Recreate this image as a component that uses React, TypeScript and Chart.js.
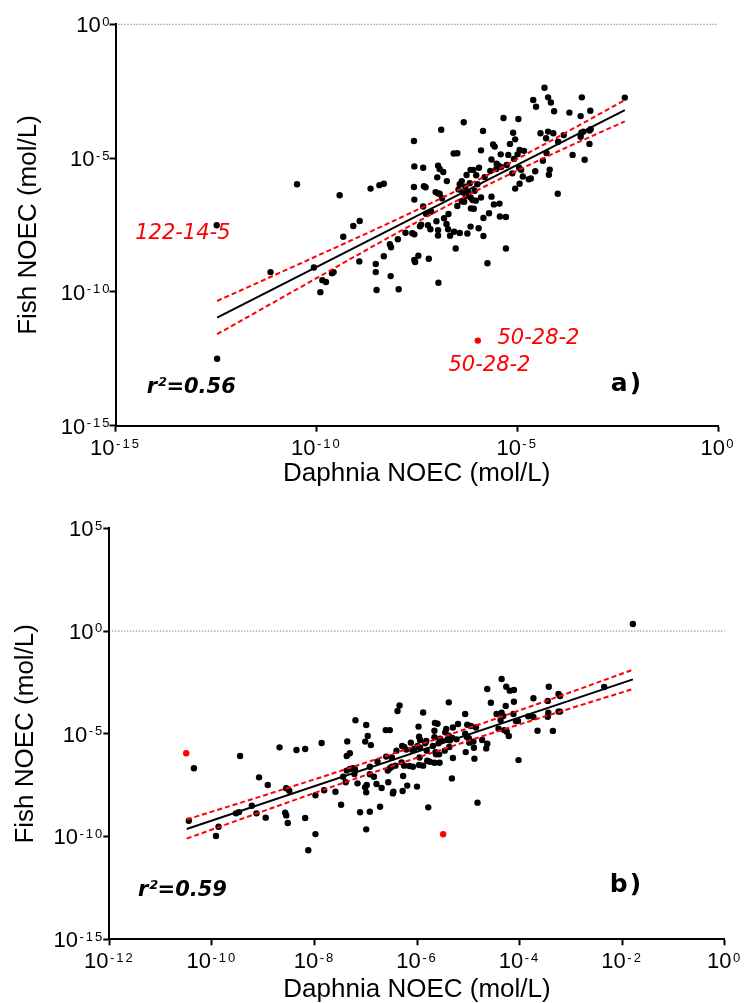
import React, { useEffect, useRef } from "react";
import { Chart, registerables } from "chart.js";

Chart.register(...registerables);

// ---------- DATA (values are log10 of the concentration in mol/L) ----------
// Panel a)
const daphniaLogA = [
  -12.48, -12.47, -11.14, -10.48, -10.06, -9.9, -9.85, -9.76, -9.61, -9.57,
  -9.42, -9.33, -9.08, -8.92, -8.93, -8.65, -8.52, -8.52, -8.5, -8.43,
  -8.32, -8.32, -8.17, -8.14, -8.15, -7.95, -7.97, -7.56, -7.54, -7.2,
  -6.96, -5.74, -4.32, -2.32,
  -4.6, -4.53, -4.23, -4.16, -4.08, -3.39, -3.7, -3.42, -3.18, -5.34,
  -4.97, -6.33, -6.89, -5.85, -7.57, -5.1, -5.05, -5.18, -4.42, -4.23,
  -4.1, -4.28, -3.84, -3.98, -3.4, -3.35, -3.2, -3.17, -3.42, -3.2,
  -5.6, -5.56, -5.9, -6.58, -6.49, -4.94, -4.83, -4.99, -5.41, -5.22,
  -4.27, -3.62, -3.32, -5.64, -5.08, -4.36, -7.56, -7.34, -6.97, -6.93,
  -5.51, -5.47, -5.4, -5.26, -5.95, -4.95, -4.9, -6.16, -6.09, -6.84,
  -6.99, -6.75, -6.38, -6.43, -6.26, -6.02, -5.81, -5.67, -5.52, -5.12,
  -4.86, -4.66, -4.71, -4.55, -4.19, -4.21, -4.94, -5.05, -7.32, -7.28,
  -7.57, -7.03, -6.97, -6.93, -6.46, -6.29, -6.18, -5.99, -6.06, -6.22,
  -6.36, -6.87, -7.56, -6.28, -6.16, -6.11, -6.03, -6.32, -6.38, -5.9,
  -5.64, -5.58, -5.44, -5.7, -5.84, -7.34, -6.49, -6.15, -6.08, -6.71,
  -6.82, -7.14, -7.27, -5.43, -5.28, -3.99, -7.39, -7.42, -7.22, -7.01,
  -6.76, -7.16, -6.97, -6.97, -6.72, -6.67, -6.57, -6.43, -6.24, -6.16,
  -5.96, -5.84, -7.61, -7.56, -7.78, -6.53, -5.28, -7.46,
];
const fishLogA = [
  -7.51, -12.5, -9.26, -5.98, -9.09, -10.01, -9.56, -9.63, -9.3, -9.26,
  -6.39, -7.94, -7.54, -7.35, -8.86, -6.14, -8.96, -9.26, -9.93, -6.01,
  -5.96, -8.67, -8.22, -8.33, -9.41, -9.9, -8.03, -8.81, -8.88, -8.76,
  -9.66, -8.93, -2.37, -2.74,
  -2.83, -3.08, -2.73, -2.92, -3.25, -2.73, -3.3, -3.43, -3.23, -3.5,
  -3.54, -3.66, -3.94, -3.99, -4.36, -4.05, -4.3, -4.47, -4.07, -4.01,
  -4.07, -4.26, -4.14, -4.39, -4.05, -4.01, -3.97, -3.92, -4.2, -4.47,
  -4.49, -4.57, -4.71, -4.83, -4.82, -4.7, -4.73, -4.86, -4.86, -4.88,
  -4.81, -4.88, -5.06, -5.05, -5.03, -5.1, -5.31, -5.36, -5.28, -5.41,
  -5.21, -5.28, -5.33, -5.26, -5.36, -5.36, -5.44, -5.44, -5.44, -5.52,
  -5.72, -5.86, -5.86, -5.98, -5.63, -5.64, -5.71, -5.48, -5.41, -5.57,
  -5.69, -5.76, -5.79, -5.49, -5.43, -5.62, -5.96, -6.14, -6.05, -6.09,
  -6.08, -6.27, -6.32, -6.33, -6.17, -6.07, -5.94, -5.98, -6.22, -6.28,
  -6.28, -6.5, -6.55, -6.42, -6.47, -6.57, -6.59, -6.63, -6.61, -6.47,
  -6.44, -6.73, -6.7, -7.06, -7.24, -6.81, -6.79, -6.88, -6.89, -7.09,
  -7.25, -7.0, -7.08, -7.18, -7.2, -6.33, -7.49, -7.55, -7.51, -7.36,
  -7.46, -7.66, -7.69, -7.89, -7.66, -7.9, -7.75, -7.8, -7.82, -7.56,
  -7.62, -7.91, -7.81, -7.85, -7.79, -8.38, -8.38, -8.65,
];
const outlierDaphniaLogA = [-5.98];
const outlierFishLogA = [-11.82];
const fitXLogA = [-12.47, -2.32];
const fitYLogA = [-10.96, -3.21];
const bandXLogA = [-12.47, -10.4, -7.91, -6.11, -4.17, -2.32];
const bandUpperLogA = [-10.34, -8.94, -7.23, -5.92, -4.36, -2.83];
const bandLowerLogA = [-11.58, -9.83, -7.73, -6.29, -4.88, -3.63];
const xTickExpA = [-15, -10, -5, 0];
const yTickExpA = [-15, -10, -5, 0];

// Panel b)
const daphniaLogB = [
  -10.35, -10.45, -9.87, -9.92, -9.45, -9.08, -8.91, -9.53, -9.47, -9.22,
  -9.13, -8.95, -8.68, -8.55, -8.49, -8.57, -8.55, -8.52, -8.35, -8.18,
  -7.98, -7.81, -7.59, -8.18, -7.98, -8.12, -7.86, -7.48, -7.36, -7.37,
  -7.31, -7.39, -7.37, -7.31, -7.25, -7.21, -7.44, -7.22, -7.2, -6.99,
  -6.96, -7.01, -6.9, -7.16, -6.98, -7.01, -6.99, -7.11, -6.92, -6.99,
  -6.92, -6.92, -6.84, -6.77, -6.79, -6.72,
  -4.35, -4.63, -4.26, -4.19, -4.11, -3.43, -3.24, -3.21, -3.73, -4.11,
  -4.56, -4.27, -3.45, -5.38, -6.34, -6.38, -5.88, -5.06, -4.45, -4.35,
  -4.32, -4.12, -3.83, -3.73, -3.24, -3.21, -3.44, -3.45, -4.07, -4.03,
  -4.37, -5.65, -5.6, -5.43, -5.45, -5.97, -5.2, -5.3, -5.02, -4.95,
  -4.85, -4.41, -4.3, -4.25, -3.65, -3.35, -6.61, -6.53, -5.66, -5.38,
  -5.31, -5.96, -5.94, -5.66, -5.06, -5.03, -4.99, -4.21, -5.41, -5.36,
  -5.23, -6.12, -5.82, -5.84, -5.55, -5.53, -4.98, -4.9, -4.73, -4.63,
  -6.29, -6.25, -5.99, -5.94, -5.69, -5.58, -6.4, -6.21, -6.09, -6.05,
  -5.81, -5.64, -5.46, -5.37, -5.05, -4.89, -4.65, -6.6, -6.49, -5.95,
  -5.8, -5.63, -5.57, -6.3, -6.25, -6.42, -6.15, -6.08, -5.96, -5.88,
  -5.75, -5.66, -5.56, -5.3, -4.88, -4.02, -6.57, -6.53, -6.49, -6.27,
  -6.19, -6.0, -6.56, -6.69, -6.46, -6.47, -6.28, -5.32, -4.82, -5.78,
  -2.35, -1.79,
];
const fishLogB = [
  -6.68, -9.23, -9.52, -9.97, -6.08, -7.12, -7.49, -8.87, -8.81, -8.5,
  -8.87, -9.08, -5.66, -7.65, -7.77, -8.84, -8.97, -9.34, -5.79, -5.74,
  -7.99, -7.75, -7.82, -9.1, -9.88, -10.67, -5.45, -8.45, -5.37, -6.08,
  -5.95, -7.36, -6.79, -6.71, -6.68, -6.71, -7.09, -6.96, -4.34, -4.57,
  -5.11, -5.38, -5.55, -7.41, -7.49, -7.6, -7.85, -8.82, -8.79, -9.65,
  -6.6, -6.97, -7.09, -6.36, -7.44, -8.55,
  -2.33, -2.82, -2.71, -2.9, -2.87, -2.71, -3.06, -3.16, -3.27, -3.44,
  -3.49, -3.65, -3.4, -3.47, -3.62, -3.89, -3.96, -4.04, -4.04, -3.97,
  -4.13, -4.04, -4.15, -4.18, -3.92, -3.92, -3.97, -4.17, -4.38, -4.38,
  -4.33, -4.47, -4.51, -4.77, -4.93, -4.65, -4.52, -4.69, -4.56, -4.62,
  -4.69, -4.75, -4.82, -4.9, -4.85, -4.86, -4.82, -4.82, -4.85, -5.09,
  -5.2, -5.14, -5.3, -5.17, -4.99, -5.14, -5.22, -5.11, -5.29, -5.32,
  -5.27, -5.43, -5.35, -5.46, -5.24, -5.33, -5.43, -5.38, -5.3, -5.48,
  -5.59, -5.64, -5.59, -5.68, -5.59, -5.46, -5.82, -5.77, -5.79, -5.72,
  -5.82, -5.89, -5.82, -5.64, -5.89, -5.68, -5.71, -6.11, -6.15, -6.15,
  -6.31, -6.0, -6.0, -6.39, -6.55, -6.55, -6.57, -6.6, -6.52, -6.55,
  -6.36, -6.41, -6.41, -6.18, -6.21, -6.28, -6.79, -6.68, -6.6, -7.05,
  -7.52, -7.57, -7.36, -7.64, -7.82, -7.9, -7.78, -7.17, -8.35, -8.58,
  -2.72, 0.34,
];
const outlierDaphniaLogB = [-10.5, -5.49];
const outlierFishLogB = [-5.95, -9.89];
const fitXLogB = [-10.49, -1.79];
const fitYLogB = [-9.63, -2.35];
const bandXLogB = [-10.49, -8.87, -6.92, -4.97, -3.21, -1.79];
const bandUpperLogB = [-9.17, -7.91, -6.34, -4.7, -3.16, -1.88];
const bandLowerLogB = [-10.1, -8.65, -6.94, -5.32, -3.92, -2.82];
const xTickExpB = [-12, -10, -8, -6, -4, -2, 0];
const yTickExpB = [-15, -10, -5, 0, 5];

// ---------- RENDERING ----------
const AXIS_FONT = '"Liberation Sans", Arial, Helvetica, sans-serif';
const NOTE_FONT = '"DejaVu Sans", Verdana, sans-serif';
const RED = "#ff0000";

function pts(xs: number[], ys: number[]) {
  return xs.map((v, i) => ({ x: Math.pow(10, v), y: Math.pow(10, ys[i]) }));
}

function drawPower(ctx: any, exp: number, x: number, yMid: number, align: string) {
  const base = "10";
  const sup = String(exp);
  ctx.font = `22px ${AXIS_FONT}`;
  ctx.letterSpacing = "0px";
  const wb = ctx.measureText(base).width;
  ctx.font = `13px ${AXIS_FONT}`;
  ctx.letterSpacing = "2px";
  const ws = ctx.measureText(sup).width;
  const gap = 1.5;
  const total = wb + gap + ws;
  const left = align === "center" ? x - total / 2 : x - total;
  ctx.textAlign = "left";
  ctx.textBaseline = "alphabetic";
  ctx.font = `22px ${AXIS_FONT}`;
  ctx.letterSpacing = "0px";
  ctx.fillText(base, left, yMid + 7.9);
  ctx.font = `13px ${AXIS_FONT}`;
  ctx.letterSpacing = "2px";
  ctx.fillText(sup, left + wb + gap, yMid + 1.4);
}

function textPlugin(cfg: any) {
  return {
    id: "sciText",
    afterDraw(chart: any) {
      const { ctx, chartArea: a } = chart;
      const xs = chart.scales.x;
      const ys = chart.scales.y;
      ctx.save();
      ctx.fillStyle = "#000";
      cfg.xTicks.forEach((e: number) =>
        drawPower(ctx, e, xs.getPixelForValue(Math.pow(10, e)), a.bottom + cfg.xLabelDy, "center")
      );
      cfg.yTicks.forEach((e: number) =>
        drawPower(ctx, e, a.left - cfg.yLabelDx, ys.getPixelForValue(Math.pow(10, e)), "right")
      );
      ctx.font = `26px ${AXIS_FONT}`;
      ctx.letterSpacing = "0px";
      ctx.textAlign = "center";
      ctx.textBaseline = "alphabetic";
      ctx.fillStyle = "#000";
      ctx.fillText(cfg.xTitle, (a.left + a.right) / 2, a.bottom + cfg.xTitleDy);
      ctx.save();
      ctx.translate(cfg.yTitleX, (a.top + a.bottom) / 2);
      ctx.rotate(-Math.PI / 2);
      ctx.fillText(cfg.yTitle, 0, 0);
      ctx.restore();
      ctx.textAlign = "left";
      cfg.notes.forEach((n: any) => {
        ctx.font = n.font;
        ctx.fillStyle = n.color;
        ctx.letterSpacing = n.spacing || "0px";
        ctx.fillText(n.text, xs.getPixelForValue(Math.pow(10, n.x)), ys.getPixelForValue(Math.pow(10, n.y)));
      });
      ctx.restore();
    },
  };
}

function axisOptions(minExp: number, maxExp: number, tickExp: number[], isX: boolean, size: number) {
  return {
    type: "logarithmic",
    position: isX ? "bottom" : "left",
    min: Math.pow(10, minExp),
    max: Math.pow(10, maxExp),
    afterBuildTicks: (axis: any) => {
      axis.ticks = tickExp.map((e) => ({ value: Math.pow(10, e) }));
    },
    afterFit: (axis: any) => {
      if (isX) axis.height = size;
      else axis.width = size;
    },
    ticks: { display: false },
    grid: {
      display: true,
      drawOnChartArea: false,
      drawTicks: true,
      tickLength: 6,
      tickWidth: 2,
      tickColor: "#000",
      color: "#000",
    },
    border: { display: true, color: "#000", width: 2 },
    title: { display: false },
  };
}

function makeConfig(s: any) {
  const xAxisBox = 30;
  return {
    type: "scatter",
    data: {
      datasets: [
        {
          data: pts(s.redX, s.redY),
          pointRadius: 3.2,
          pointBackgroundColor: RED,
          pointBorderWidth: 0,
          showLine: false,
        },
        {
          type: "line",
          data: pts(s.fitX, s.fitY),
          borderColor: "#000",
          borderWidth: 2,
          pointRadius: 0,
          fill: false,
        },
        {
          type: "line",
          data: pts(s.bandX, s.bandUp),
          borderColor: RED,
          borderWidth: 2,
          borderDash: [5, 3],
          pointRadius: 0,
          fill: false,
          cubicInterpolationMode: "monotone",
        },
        {
          type: "line",
          data: pts(s.bandX, s.bandLo),
          borderColor: RED,
          borderWidth: 2,
          borderDash: [5, 3],
          pointRadius: 0,
          fill: false,
          cubicInterpolationMode: "monotone",
        },
        {
          data: pts(s.x, s.y),
          pointRadius: 3.2,
          pointBackgroundColor: "#000",
          pointBorderWidth: 0,
          showLine: false,
        },
        {
          type: "line",
          data: [
            { x: Math.pow(10, s.xMin), y: 1 },
            { x: Math.pow(10, s.xMax), y: 1 },
          ],
          borderColor: "#555",
          borderWidth: 1,
          borderDash: [1, 2],
          pointRadius: 0,
          fill: false,
          clip: false,
        },
      ],
    },
    options: {
      animation: false,
      responsive: false,
      devicePixelRatio: 1,
      events: [],
      layout: {
        padding: {
          left: 0,
          right: s.width - s.area.right,
          top: s.area.top,
          bottom: s.height - s.area.bottom - xAxisBox,
        },
      },
      plugins: { legend: { display: false }, tooltip: { enabled: false } },
      scales: {
        x: axisOptions(s.xMin, s.xMax, s.xTicks, true, xAxisBox),
        y: axisOptions(s.yMin, s.yMax, s.yTicks, false, s.area.left),
      },
    },
    plugins: [textPlugin(s.text)],
  };
}

const noteItalic = `italic 21px ${NOTE_FONT}`;
const noteBoldItalic = `italic bold 21px ${NOTE_FONT}`;
const panelFont = `bold 25px ${NOTE_FONT}`;

const specA = {
  x: daphniaLogA, y: fishLogA,
  redX: outlierDaphniaLogA, redY: outlierFishLogA,
  fitX: fitXLogA, fitY: fitYLogA,
  bandX: bandXLogA, bandUp: bandUpperLogA, bandLo: bandLowerLogA,
  xMin: -15, xMax: 0, yMin: -15, yMax: 0,
  xTicks: xTickExpA, yTicks: yTickExpA,
  width: 744, height: 500,
  area: { left: 115.5, right: 718, top: 24.3, bottom: 425.7 },
  text: {
    xTicks: xTickExpA, yTicks: yTickExpA,
    xTitle: "Daphnia NOEC (mol/L)", yTitle: "Fish NOEC (mol/L)",
    xLabelDy: 21, yLabelDx: 4, xTitleDy: 55.3, yTitleX: 35.5,
    notes: [
      { text: "122-14-5", x: -14.51, y: -8.02, font: noteItalic, color: RED },
      { text: "50-28-2", x: -5.49, y: -11.95, font: noteItalic, color: RED },
      { text: "50-28-2", x: -6.71, y: -12.94, font: noteItalic, color: RED },
      { text: "r²=0.56", x: -14.22, y: -13.77, font: noteBoldItalic, color: "#000" },
      { text: "a)", x: -2.67, y: -13.7, font: panelFont, color: "#000", spacing: "2px" },
    ],
  },
};

const specB = {
  x: daphniaLogB, y: fishLogB,
  redX: outlierDaphniaLogB, redY: outlierFishLogB,
  fitX: fitXLogB, fitY: fitYLogB,
  bandX: bandXLogB, bandUp: bandUpperLogB, bandLo: bandLowerLogB,
  xMin: -12, xMax: 0, yMin: -15, yMax: 5,
  xTicks: xTickExpB, yTicks: yTickExpB,
  width: 744, height: 503,
  area: { left: 109.3, right: 724.7, top: 28.3, bottom: 439.3 },
  text: {
    xTicks: xTickExpB, yTicks: yTickExpB,
    xTitle: "Daphnia NOEC (mol/L)", yTitle: "Fish NOEC (mol/L)",
    xLabelDy: 21, yLabelDx: 5, xTitleDy: 57.7, yTitleX: 32.5,
    notes: [
      { text: "r²=0.59", x: -11.44, y: -12.87, font: noteBoldItalic, color: "#000" },
      { text: "b)", x: -2.24, y: -12.7, font: panelFont, color: "#000", spacing: "2px" },
    ],
  },
};

export default function App() {
  const refA = useRef<HTMLCanvasElement>(null);
  const refB = useRef<HTMLCanvasElement>(null);

  useEffect(() => {
    const ca = new Chart(refA.current as any, makeConfig(specA) as any);
    const cb = new Chart(refB.current as any, makeConfig(specB) as any);
    return () => {
      ca.destroy();
      cb.destroy();
    };
  }, []);

  return (
    <div style={{ position: "absolute", left: 0, top: 0, width: 744, height: 1003, background: "#fff" }}>
      <canvas
        ref={refA}
        width={744}
        height={500}
        style={{ position: "absolute", left: 0, top: 0, width: 744, height: 500 }}
      />
      <canvas
        ref={refB}
        width={744}
        height={503}
        style={{ position: "absolute", left: 0, top: 500, width: 744, height: 503 }}
      />
    </div>
  );
}
